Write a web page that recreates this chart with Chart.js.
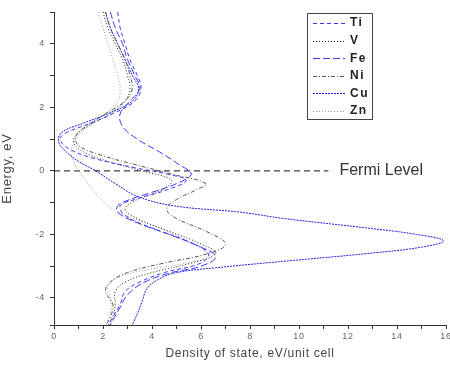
<!DOCTYPE html>
<html>
<head>
<meta charset="utf-8">
<script src="https://cdn.jsdelivr.net/npm/chart.js@4.4.1/dist/chart.umd.min.js"></script>
<style>
  html, body { margin: 0; padding: 0; background: #fff; overflow: hidden; }
  canvas { display: block; }
</style>
</head>
<body>
<canvas id="dos" width="450" height="367"></canvas>
<script>
// energy (eV) / density of states pairs
const tiEnergy = [5,4.5,4,3.5,3,2.6,2.2,1.8,1.5,1.2,1.0,0.7,0.4,0.1,-0.1,-0.3,-0.6,-0.9,-1.1,-1.4,-1.8,-2.2,-2.6,-2.9,-3.2,-3.5,-3.8,-4.2,-4.6,-5];
const tiDos    = [2.6,2.7,2.9,3.1,3.4,3.55,3.3,2.4,1.5,0.5,0.25,0.6,1.6,3.3,4.6,5.4,4.6,3.3,2.7,2.9,4.0,5.4,6.3,6.0,4.5,3.5,2.9,2.7,2.4,2.1];

const vEnergy = [5,4.5,4,3.5,3,2.6,2.2,1.8,1.5,1.2,0.9,0.6,0.3,0,-0.3,-0.6,-0.9,-1.2,-1.5,-1.9,-2.3,-2.6,-2.9,-3.2,-3.5,-3.8,-4.2,-4.6,-5];
const vDos    = [2.0,2.2,2.5,2.8,3.0,3.1,2.9,2.3,1.6,1.0,0.8,1.2,2.2,3.6,4.8,4.4,3.4,2.9,3.4,4.7,6.0,6.6,5.6,4.0,2.9,2.5,2.5,2.4,2.2];

const feEnergy = [5,4.5,4,3.5,3,2.6,2.2,1.8,1.4,1.0,0.6,0.2,-0.1,-0.4,-0.7,-0.9,-1.1,-1.3,-1.6,-2.0,-2.4,-2.7,-3.0,-3.2,-3.5,-3.9,-4.3,-4.7,-5];
const feDos    = [2.3,2.5,2.8,3.0,3.3,3.5,3.1,2.7,2.8,3.4,4.3,5.1,5.6,5.0,3.9,3.1,2.6,2.6,3.3,4.7,6.0,6.6,6.0,4.8,3.7,3.0,2.7,2.4,2.2];

const niEnergy = [5,4.5,4,3.5,3,2.6,2.2,1.8,1.4,1.1,0.8,0.5,0.2,-0.1,-0.4,-0.6,-0.9,-1.2,-1.5,-1.9,-2.3,-2.6,-2.9,-3.2,-3.5,-3.8,-4.2,-4.6,-5];
const niDos    = [2.1,2.3,2.6,2.9,3.1,3.2,2.9,2.1,1.3,0.9,1.0,1.9,3.3,4.8,6.2,5.8,5.0,4.6,5.0,6.2,7.0,6.3,4.5,3.0,2.3,2.1,2.4,2.3,2.0];

const cuEnergy = [5,4.5,4,3.5,3,2.6,2.2,1.8,1.5,1.2,0.9,0.6,0.3,0,-0.4,-0.8,-1.1,-1.3,-1.5,-1.8,-2.0,-2.2,-2.4,-2.6,-2.85,-3.05,-3.2,-3.4,-3.7,-4.1,-4.5,-5];
const cuDos    = [2.1,2.3,2.6,2.9,3.2,3.45,3.2,2.2,1.2,0.3,0.2,0.5,1.0,1.7,2.5,3.4,4.9,7.6,9.4,12.8,14.8,15.9,15.0,12.8,9.3,6.6,5.0,4.3,3.8,3.6,3.4,3.1];

const znEnergy = [5,4.5,4,3.5,3,2.6,2.2,1.8,1.4,1.0,0.6,0.3,0,-0.4,-0.8,-1.2,-1.6,-2.0,-2.4,-2.7,-2.9,-3.1,-3.3,-3.6,-4.0,-4.5,-5];
const znDos    = [1.8,2.0,2.2,2.4,2.6,2.7,2.6,2.1,1.4,0.9,0.7,0.8,1.0,1.4,1.8,2.4,3.6,4.9,5.9,6.3,5.4,3.9,2.8,2.2,2.3,2.3,2.0];

const fermiEnergy = [0, 0];
const fermiDos = [0, 11.2];

const seriesNames = ["Ti", "V", "Fe", "Ni", "Cu", "Zn"];
const xTicks = [0, 2, 4, 6, 8, 10, 12, 14, 16];
const yTicks = [-4, -2, 0, 2, 4];

function pts(xs, ys) {
  return xs.map((x, i) => ({ x: x, y: ys[i] }));
}

const blue = "rgb(55,55,255)";
const styles = [
  { color: blue, dash: [4, 3] },
  { color: "#222", dash: [1, 2] },
  { color: blue, dash: [7, 3] },
  { color: "#555", dash: [4, 2, 1, 2] },
  { color: "rgb(30,30,225)", dash: [2, 1] },
  { color: "#999", dash: [1, 2] },
];
const dosList = [tiDos, vDos, feDos, niDos, cuDos, znDos];
const energyList = [tiEnergy, vEnergy, feEnergy, niEnergy, cuEnergy, znEnergy];

const datasets = seriesNames.map((name, i) => ({
  label: name,
  data: pts(dosList[i], energyList[i]),
  showLine: true,
  borderColor: styles[i].color,
  borderDash: styles[i].dash,
  borderWidth: 1,
  pointRadius: 0,
  tension: 0.4,
  fill: false,
}));
datasets.push({
  label: "Fermi",
  data: pts(fermiDos, fermiEnergy),
  showLine: true,
  borderColor: "#111",
  borderDash: [6, 4],
  borderWidth: 1,
  pointRadius: 0,
  tension: 0,
});

const font = "'Liberation Sans', Arial, sans-serif";

// legend box + "Fermi Level" text
const extras = {
  id: "extras",
  beforeDraw(chart) {
    chart.ctx.letterSpacing = "0.7px";
  },
  afterDraw(chart) {
    const ctx = chart.ctx;
    const xs = chart.scales.x, ys = chart.scales.y;
    ctx.save();
    ctx.letterSpacing = "0px";
    ctx.font = "16px " + font;
    ctx.fillStyle = "#333";
    ctx.textBaseline = "middle";
    ctx.fillText("Fermi Level", xs.getPixelForValue(11.65), ys.getPixelForValue(0));

    ctx.strokeStyle = "#444";
    ctx.lineWidth = 1;
    ctx.setLineDash([]);
    ctx.strokeRect(307.5, 13.5, 65, 106);
    ctx.font = "bold 12px " + font;
    ctx.letterSpacing = "1.5px";
    seriesNames.forEach((name, i) => {
      const y = 23 + i * 17.6;
      ctx.strokeStyle = styles[i].color;
      ctx.setLineDash(styles[i].dash);
      ctx.beginPath();
      ctx.moveTo(313, Math.round(y) + 0.5);
      ctx.lineTo(345, Math.round(y) + 0.5);
      ctx.stroke();
      ctx.fillStyle = "#222";
      ctx.fillText(name, 350, y);
    });
    ctx.restore();
  },
};

new Chart(document.getElementById("dos"), {
  type: "scatter",
  data: { datasets: datasets },
  plugins: [extras],
  options: {
    responsive: false,
    animation: false,
    devicePixelRatio: 1,
    layout: { padding: { top: 12, right: 4, left: 0, bottom: 0 } },
    plugins: { legend: { display: false }, tooltip: { enabled: false } },
    scales: {
      x: {
        type: "linear",
        min: 0,
        max: 16,
        border: { color: "#333", width: 1 },
        grid: { drawOnChartArea: false, tickLength: 4, color: "#333" },
        ticks: {
          stepSize: 1,
          maxRotation: 0,
          autoSkip: false,
          padding: 2,
          color: "#666",
          font: { size: 9, family: font },
          callback: (v) => (xTicks.includes(v) ? String(v) : ""),
        },
        title: {
          display: true,
          text: "Density of state, eV/unit cell",
          color: "#444",
          font: { size: 12, family: font },
          padding: { top: 0, bottom: 6 },
        },
        afterFit: (s) => {
          s.height = 42;
          s.paddingLeft = 0;
          s.paddingRight = 0;
        },
      },
      y: {
        type: "linear",
        min: -4.85,
        max: 5,
        border: { color: "#333", width: 1 },
        grid: { drawOnChartArea: false, tickLength: 4, color: "#333" },
        ticks: {
          stepSize: 1,
          autoSkip: false,
          padding: 5,
          color: "#666",
          font: { size: 9, family: font },
          callback: (v) => (yTicks.includes(v) ? String(v) : ""),
        },
        title: {
          display: true,
          text: "Energy, eV",
          color: "#444",
          font: { size: 13, family: font },
          padding: { top: 0, bottom: 3 },
        },
        afterFit: (s) => {
          s.width = 54;
          s.paddingTop = 0;
          s.paddingBottom = 0;
        },
      },
    },
  },
});
</script>
</body>
</html>
